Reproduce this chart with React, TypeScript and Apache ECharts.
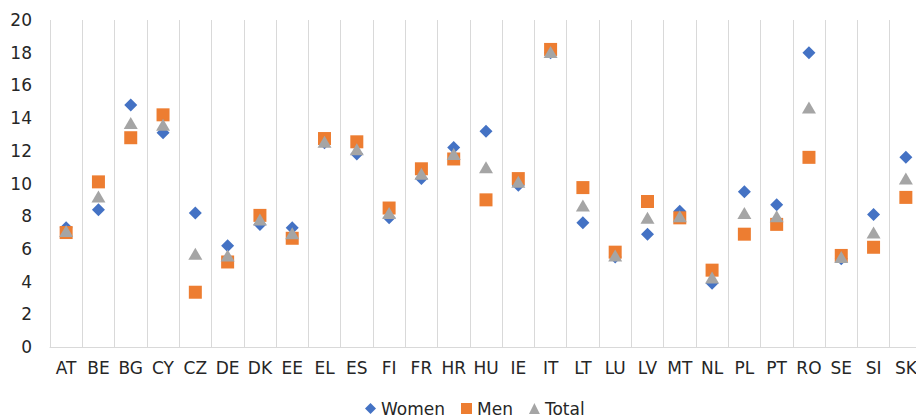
import React, { useEffect, useRef } from "react";
import * as echarts from "echarts";

const categories = ["AT","BE","BG","CY","CZ","DE","DK","EE","EL","ES","FI","FR","HR","HU","IE","IT","LT","LU","LV","MT","NL","PL","PT","RO","SE","SI","SK"];
const women = [7.3,8.4,14.8,13.1,8.2,6.2,7.5,7.3,12.5,11.8,7.9,10.3,12.2,13.2,9.9,18.0,7.6,5.5,6.9,8.3,3.9,9.5,8.7,18.0,5.4,8.1,11.6];
const men = [7.0,10.1,12.8,14.2,3.35,5.2,8.05,6.65,12.75,12.55,8.5,10.9,11.5,9.0,10.3,18.2,9.75,5.8,8.9,7.9,4.7,6.9,7.5,11.6,5.6,6.1,9.15];
const total = [7.1,9.2,13.7,13.6,5.7,5.6,7.8,6.95,12.55,12.1,8.2,10.6,11.8,11.0,10.1,18.05,8.65,5.6,7.9,8.0,4.25,8.2,8.0,14.65,5.5,7.0,10.3];
const yTicks = { min: 0, max: 20, interval: 2 };

export default function App() {
  const ref = useRef<HTMLDivElement>(null);
  useEffect(() => {
    if (!ref.current) return;
    const chart = echarts.init(ref.current, null, { renderer: "svg" });
    const font = "DejaVu Sans, sans-serif";
    chart.setOption({
      animation: false,
      textStyle: { fontFamily: font },
      grid: { left: 50, right: 0, top: 20, bottom: 72 },
      legend: {
        left: 365,
        top: 400,
        padding: 0,
        itemWidth: 11,
        itemHeight: 11,
        itemGap: 16,
        textStyle: { fontSize: 17, lineHeight: 17, color: "#262626", fontFamily: font },
        data: [
          { name: "Women", icon: "diamond" },
          { name: "Men", icon: "rect" },
          { name: "Total", icon: "triangle" },
        ],
      },
      xAxis: {
        type: "category",
        data: categories,
        boundaryGap: true,
        axisLine: { show: true, lineStyle: { color: "#d9d9d9", width: 1 } },
        axisTick: { show: false },
        axisLabel: { interval: 0, fontSize: 17, color: "#262626", margin: 12, fontFamily: font },
        splitLine: { show: true, interval: 0, lineStyle: { color: "#d9d9d9", width: 1 } },
      },
      yAxis: {
        type: "value",
        min: yTicks.min,
        max: yTicks.max,
        interval: yTicks.interval,
        axisLine: { show: false },
        axisTick: { show: false },
        splitLine: { show: false },
        axisLabel: { fontSize: 17, color: "#262626", margin: 18, fontFamily: font },
      },
      series: [
        { name: "Women", type: "scatter", data: women, symbol: "diamond", symbolSize: [13, 13], itemStyle: { color: "#4472C4", opacity: 1 } },
        { name: "Men", type: "scatter", data: men, symbol: "rect", symbolSize: [13, 13], itemStyle: { color: "#ED7D31", opacity: 1 } },
        { name: "Total", type: "scatter", data: total, symbol: "triangle", symbolSize: [14, 12], itemStyle: { color: "#A5A5A5", opacity: 1 } },
      ],
    });
    return () => chart.dispose();
  }, []);
  return (
    <div style={{ position: "fixed", left: 0, top: 0, width: 916, height: 419, overflow: "hidden", background: "#fff" }}>
      <div ref={ref} style={{ width: 922, height: 419 }} />
    </div>
  );
}
